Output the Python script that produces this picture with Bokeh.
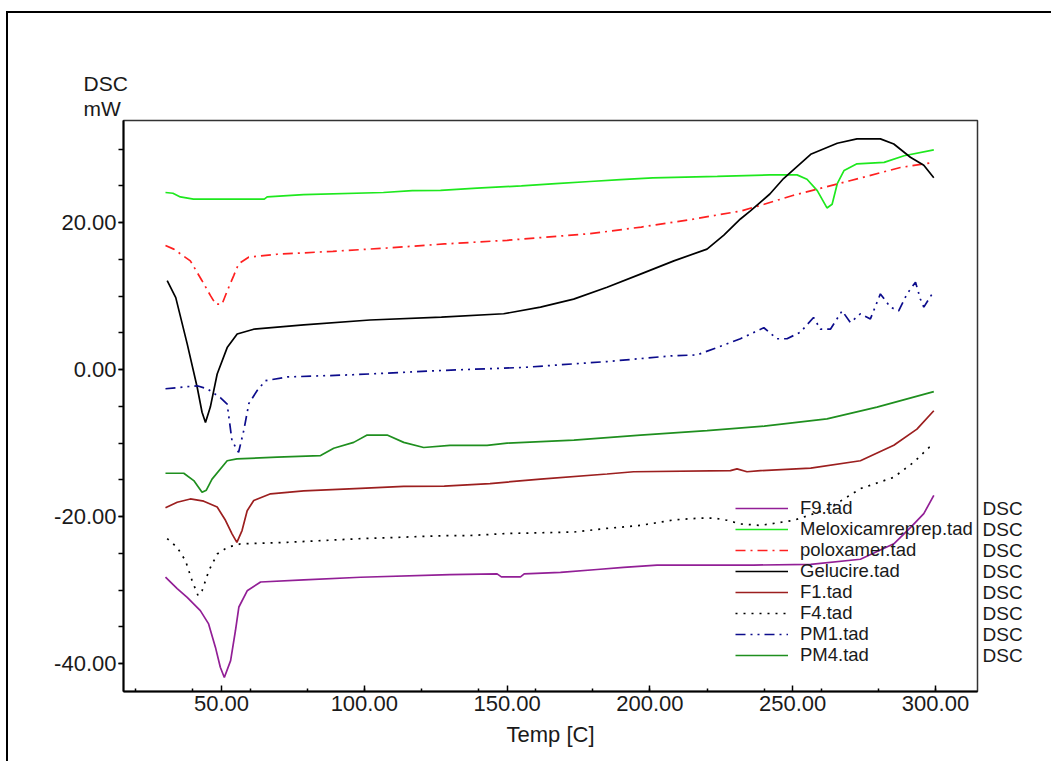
from bokeh.plotting import figure
from bokeh.models import (Range1d, FixedTicker, PrintfTickFormatter, Legend, LegendItem,
                          LinearAxis, CustomJSTickFormatter, Title)
from bokeh.embed import file_html
from bokeh.resources import INLINE

# ---------------- data ----------------
series_names = ["F9.tad", "Meloxicamreprep.tad", "poloxamer.tad", "Gelucire.tad",
                "F1.tad", "F4.tad", "PM1.tad", "PM4.tad"]
signal_name = "DSC"
y_title = ["DSC", "mW"]
x_title = "Temp [C]"

f9_t = [30.4, 34.5, 38, 42.6, 45.5, 47.9, 49.6, 51, 53.2, 54.9, 56.1, 59, 63.7, 78.8, 98.7,
        130, 146.5, 148, 154.7, 156, 168.7, 181.5, 190.8, 202.5, 236.4, 256.3, 273.7, 285.4,
        291.2, 295.9, 299.4]
f9_v = [-28.25, -29.8, -31.0, -32.8, -34.6, -37.8, -40.5, -41.9, -39.6, -35.5, -32.3, -30.1,
        -28.9, -28.6, -28.25, -27.9, -27.8, -28.2, -28.2, -27.8, -27.6, -27.2, -26.9, -26.6,
        -26.6, -26.5, -25.8, -23.7, -21.5, -19.6, -17.1]

melox_t = [30.4, 33, 35.6, 40.2, 65, 66, 78.7, 106.7, 116.8, 126.7, 139.5, 155, 167, 179,
           189.7, 201, 223.6, 242, 251.5, 255, 258.6, 262, 263.8, 265.6, 268, 272.5, 282, 289,
           299.4]
melox_v = [24.1, 24.0, 23.5, 23.2, 23.2, 23.5, 23.8, 24.1, 24.35, 24.4, 24.7, 25.0, 25.3, 25.6,
           25.85, 26.1, 26.3, 26.5, 26.5, 25.9, 24.35, 22.0, 22.5, 25.3, 27.1, 28.0, 28.2, 29.1,
           29.9]

polox_t = [30.4, 33.3, 39.1, 43.2, 46.1, 48, 50.2, 52, 54.3, 56, 59.5, 69.5, 89, 108, 128, 150,
           179, 197, 214, 232, 240, 250, 270, 287.7, 299.4]
polox_v = [16.9, 16.4, 14.8, 12.1, 10.1, 8.9, 8.9, 10.7, 12.8, 14.4, 15.3, 15.7, 16.1, 16.55,
           17.1, 17.6, 18.5, 19.4, 20.4, 21.6, 22.5, 23.7, 25.7, 27.5, 28.2]

gelu_t = [31, 34, 38, 41.5, 43.2, 44.4, 46.1, 48.5, 52, 55.5, 61.3, 78.8, 102, 127, 148.8,
          161.7, 173.3, 185, 196.7, 208.4, 220, 225.9, 231.7, 235.2, 242, 246.8, 256.3, 265.6,
          272.5, 280.7, 285.4, 291.2, 295.9, 299.4]
gelu_v = [12.1, 9.8, 3.5, -2.4, -5.8, -7.2, -5.1, -0.6, 3.0, 4.85, 5.5, 6.1, 6.75, 7.15, 7.6,
          8.5, 9.6, 11.2, 13.0, 14.8, 16.4, 18.3, 20.5, 21.6, 23.9, 26.0, 29.3, 30.8, 31.4, 31.4,
          30.7, 28.9, 27.8, 26.1]

f1_t = [30.4, 34.5, 39.1, 43.8, 48.5, 51.4, 53.7, 55.4, 57.2, 59, 61.3, 67.2, 78.8, 98.7, 113.8,
        128, 144, 161.7, 185, 194.3, 228.2, 230.5, 234, 238.7, 256.3, 273.7, 285.4, 293.5, 299.4]
f1_v = [-18.8, -18.05, -17.6, -17.9, -18.7, -20.5, -22.35, -23.5, -21.9, -19.2, -17.8, -16.9,
        -16.5, -16.15, -15.9, -15.85, -15.5, -14.9, -14.2, -13.9, -13.75, -13.5, -13.9, -13.75,
        -13.4, -12.4, -10.3, -8.1, -5.6]

f4_t = [31, 34.5, 37.4, 39.7, 41.8, 43.2, 45.6, 48.5, 52, 56.7, 73, 98.7, 128, 136, 150, 173.4,
        185, 196.7, 208.4, 217.7, 222.3, 227, 231.7, 238.7, 250.4, 262.1, 273.7, 285.4, 292.4,
        297.7, 299.4]
f4_v = [-23.0, -24.2, -26.0, -28.7, -30.75, -30.1, -27.35, -25.1, -24.2, -23.7, -23.5, -23.0,
        -22.6, -22.6, -22.3, -22.1, -21.6, -21.2, -20.45, -20.2, -20.2, -20.5, -21.0, -21.2,
        -20.5, -19.0, -16.2, -14.65, -12.6, -10.6, -10.2]

pm1_t = [30.4, 41.5, 45, 49.6, 52, 53.7, 56, 57.8, 59.6, 62.5, 65.4, 73, 96, 128, 155.7, 185,
         208.4, 216.5, 223.5, 231.7, 239.9, 244.5, 248, 252.7, 257.3, 259.7, 263.2, 267.3, 270.2,
         273.7, 277.2, 280.7, 284.2, 287.1, 290, 293, 294.7, 295.9, 298.8]
pm1_v = [-2.6, -2.2, -2.6, -3.8, -4.7, -9.7, -11.25, -8.3, -4.6, -2.85, -1.5, -1.0, -0.7, -0.1,
         0.3, 1.1, 1.9, 2.0, 3.0, 4.2, 5.7, 4.2, 4.2, 5.1, 7.1, 5.5, 5.5, 8.0, 6.4, 7.6, 6.9,
         10.3, 8.5, 8.0, 10.3, 11.9, 9.6, 8.5, 10.3]

pm4_t = [30.4, 36.8, 40.3, 43.2, 44.7, 46.7, 52, 55.4, 69.5, 84.7, 89.3, 96.3, 101, 108, 113.8,
         120.8, 130, 143, 150, 173.4, 196.7, 220, 240, 262, 279.5, 299.4]
pm4_v = [-14.1, -14.1, -15.1, -16.7, -16.4, -14.9, -12.4, -12.15, -11.9, -11.7, -10.7, -9.9,
         -8.9, -8.9, -9.9, -10.6, -10.3, -10.3, -10.0, -9.6, -8.9, -8.3, -7.7, -6.7, -5.1, -3.0]

x_major = [50, 100, 150, 200, 250, 300]
x_minor = [20, 40, 60, 80, 100, 120, 140, 160, 180, 200, 220, 240, 260, 280, 300]
y_major = [-40, -20, 0, 20]
y_minor = [-40, -35, -30, -25, -20, -15, -10, -5, 0, 5, 10, 15, 20, 25, 30]

# ---------------- layout / style ----------------
FONT = "Liberation Sans"
XMIN, XMAX = 15.7, 314.7
YMIN, YMAX = -43.8, 33.9
W, H = 1045, 750
PX0, PY0 = 8, 13            # page position of canvas
FL, FT, FR, FB = 123, 120, 977, 691   # frame edges in page px


def dy(py):
    return YMAX - (py - FT) / (FB - FT) * (YMAX - YMIN)


p = figure(width=W, height=H, output_backend="svg", toolbar_location=None,
           x_range=Range1d(XMIN, XMAX), y_range=Range1d(YMIN, YMAX),
           min_border_left=FL - PX0, min_border_right=W - (FR - PX0),
           min_border_top=FT - PY0, min_border_bottom=H - (FB - PY0))
p.styles = {"margin-left": f"{PX0}px", "margin-top": f"{PY0}px",
            "box-shadow": "-2px -2px 0 0 #000"}
p.background_fill_color = "white"
p.border_fill_color = "white"
p.outline_line_color = "#333333"
p.outline_line_width = 1.5
p.xgrid.visible = False
p.ygrid.visible = False

p.xaxis.ticker = FixedTicker(ticks=x_major, minor_ticks=x_minor)
p.xaxis.formatter = PrintfTickFormatter(format="%.2f")
p.xaxis.major_tick_in = 6
p.xaxis.major_tick_out = 0
p.xaxis.minor_tick_in = 3
p.xaxis.minor_tick_out = 0
p.xaxis.major_label_standoff = 4
p.xaxis.axis_label = x_title
p.xaxis.axis_label_standoff = 8
p.xaxis.axis_label_text_font_style = "normal"

p.yaxis.ticker = FixedTicker(ticks=y_major, minor_ticks=y_minor)
p.yaxis.formatter = PrintfTickFormatter(format="%.2f")
p.yaxis.major_tick_in = 0
p.yaxis.major_tick_out = 5
p.yaxis.minor_tick_in = 0
p.yaxis.minor_tick_out = 5
p.yaxis.major_label_standoff = 2

for ax in (p.xaxis[0], p.yaxis[0]):
    ax.axis_line_width = 2
    ax.axis_line_color = "black"
    ax.major_tick_line_color = "black"
    ax.minor_tick_line_color = "black"
    ax.major_tick_line_width = 1.5
    ax.minor_tick_line_width = 1.5
    ax.major_label_text_font = FONT
    ax.major_label_text_font_size = "22px"
    ax.major_label_text_color = "#1a1a1a"
    ax.axis_label_text_font = FONT
    ax.axis_label_text_font_size = "22px"
    ax.axis_label_text_color = "#1a1a1a"

series = [
    (f9_t, f9_v, "#921f96", None),
    (melox_t, melox_v, "#1ee81e", None),
    (polox_t, polox_v, "#ff2020", "10 5 2 5"),
    (gelu_t, gelu_v, "#000000", None),
    (f1_t, f1_v, "#9c1f1f", None),
    (f4_t, f4_v, "#000000", "2 6"),
    (pm1_t, pm1_v, "#0c0c8c", "10 5 2 5 2 5"),
    (pm4_t, pm4_v, "#1f8f1f", None),
]

ROW0, ROWH = 507.5, 21     # page y of first row centre, row pitch
ITEM_H = 22

for i, (name, (t, v, col, dash)) in enumerate(zip(series_names, series)):
    kw = dict(line_color=col, line_width=1.7)
    if dash:
        kw["line_dash"] = dash
    r = p.line(t, v, **kw)
    row_c = ROW0 + i * ROWH
    leg = Legend(items=[LegendItem(label=name, renderers=[r])],
                 location=(735 - FL, FB - (row_c + ITEM_H / 2)),
                 glyph_width=53, glyph_height=ITEM_H, label_height=ITEM_H,
                 label_standoff=12, spacing=0, padding=0, margin=0,
                 background_fill_alpha=0, border_line_alpha=0,
                 label_text_font=FONT, label_text_font_size="18.5px",
                 label_text_color="#1a1a1a")
    p.add_layout(leg)

n = len(series_names)
# "DSC" signal column to the right of the frame, one per legend row
sig_axis = LinearAxis(ticker=FixedTicker(ticks=[dy(ROW0 + i * ROWH) for i in range(n)],
                                         minor_ticks=[]),
                      formatter=CustomJSTickFormatter(code=f"return '{signal_name}'"),
                      axis_line_alpha=0, major_tick_line_alpha=0, minor_tick_line_alpha=0,
                      major_tick_in=0, major_tick_out=0, major_label_standoff=5,
                      major_label_text_font=FONT, major_label_text_font_size="19px",
                      major_label_text_color="#1a1a1a")
p.add_layout(sig_axis, "right")

# "DSC" / "mW" above the y axis
p.add_layout(Title(text=y_title[1], align="left", offset=83 - FL, standoff=1,
                   text_font=FONT, text_font_size="21px", text_font_style="normal",
                   text_color="#1a1a1a"), "above")
p.add_layout(Title(text=y_title[0], align="left", offset=83 - FL, standoff=0,
                   text_font=FONT, text_font_size="21px", text_font_style="normal",
                   text_color="#1a1a1a"), "above")

open("out.html", "w").write(file_html(p, INLINE))
